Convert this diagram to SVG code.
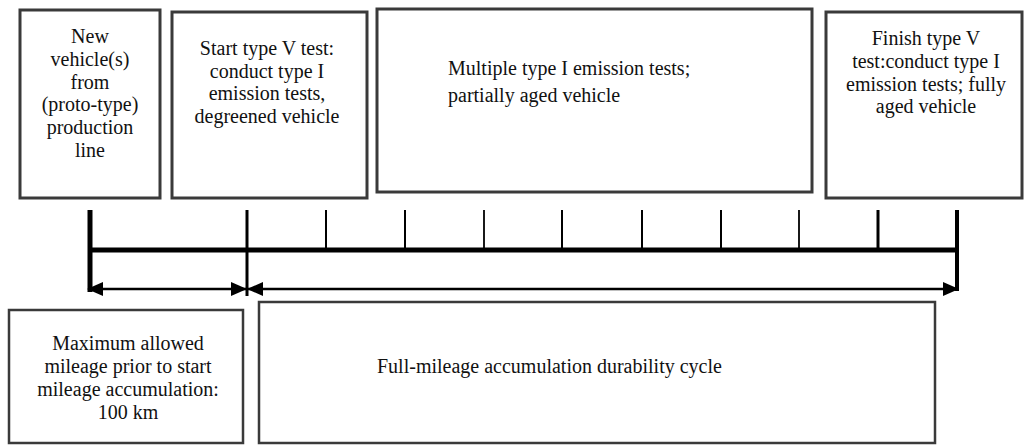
<svg xmlns="http://www.w3.org/2000/svg" width="1026" height="446" viewBox="0 0 1026 446">
  <style>
    .box { fill: #ffffff; stroke: #3a3a3a; stroke-width: 3; }
    .box2 { fill: #ffffff; stroke: #3a3a3a; stroke-width: 2.5; }
    .t { font-family: "Liberation Serif", "Times New Roman", serif; font-size: 20px; fill: #111; }
    .c { text-anchor: middle; }
    .ln { stroke: #000; fill: none; }
  </style>
  <defs>
    <marker id="ah" viewBox="0 0 16 14" refX="15" refY="7" markerWidth="16" markerHeight="14" markerUnits="userSpaceOnUse" orient="auto-start-reverse">
      <path d="M0,0 L16,7 L0,14 Z" fill="#000"/>
    </marker>
  </defs>
  <rect width="1026" height="446" fill="#ffffff"/>

  <g id="node-new-vehicle">
    <rect class="box" x="20" y="10" width="140" height="188"/>
    <text class="t c" x="90" y="43">New</text>
    <text class="t c" x="90" y="66">vehicle(s)</text>
    <text class="t c" x="90" y="89">from</text>
    <text class="t c" x="90" y="111">(proto-type)</text>
    <text class="t c" x="90" y="134">production</text>
    <text class="t c" x="90" y="157">line</text>
  </g>

  <g id="node-start-test">
    <rect class="box" x="172" y="12" width="195" height="186"/>
    <text class="t c" x="267" y="55">Start type V test:</text>
    <text class="t c" x="267" y="78">conduct type I</text>
    <text class="t c" x="267" y="100">emission tests,</text>
    <text class="t c" x="267" y="123">degreened vehicle</text>
  </g>

  <g id="node-multiple-tests">
    <rect class="box" x="377" y="9" width="435" height="183"/>
    <text class="t" x="448" y="75">Multiple type I emission tests;</text>
    <text class="t" x="448" y="102">partially aged vehicle</text>
  </g>

  <g id="node-finish-test">
    <rect class="box" x="826" y="12" width="196" height="186"/>
    <text class="t c" x="926" y="45">Finish type V</text>
    <text class="t c" x="926" y="68">test:conduct type I</text>
    <text class="t c" x="926" y="91">emission tests; fully</text>
    <text class="t c" x="926" y="113">aged vehicle</text>
  </g>

  <g id="node-max-mileage">
    <rect class="box2" x="9" y="310" width="234" height="133"/>
    <text class="t c" x="128" y="350">Maximum allowed</text>
    <text class="t c" x="128" y="373">mileage prior to start</text>
    <text class="t c" x="128" y="396">mileage accumulation:</text>
    <text class="t c" x="128" y="419">100 km</text>
  </g>

  <g id="node-full-mileage">
    <rect class="box2" x="259" y="302" width="676" height="141"/>
    <text class="t" x="377" y="373">Full-mileage accumulation durability cycle</text>
  </g>

  <g id="connectors">
    <!-- main timeline -->
    <line class="ln" x1="88" y1="250" x2="959" y2="250" stroke-width="5"/>
    <!-- ticks -->
    <line class="ln" x1="90" y1="210" x2="90" y2="292" stroke-width="5"/>
    <line class="ln" x1="247" y1="210" x2="247" y2="296" stroke-width="3"/>
    <line class="ln" x1="326" y1="210" x2="326" y2="250" stroke-width="2"/>
    <line class="ln" x1="405" y1="210" x2="405" y2="250" stroke-width="2"/>
    <line class="ln" x1="484" y1="210" x2="484" y2="250" stroke-width="1.8"/>
    <line class="ln" x1="562" y1="210" x2="562" y2="250" stroke-width="2"/>
    <line class="ln" x1="642" y1="210" x2="642" y2="250" stroke-width="2"/>
    <line class="ln" x1="721" y1="210" x2="721" y2="250" stroke-width="2"/>
    <line class="ln" x1="799" y1="210" x2="799" y2="250" stroke-width="1.8"/>
    <line class="ln" x1="878" y1="210" x2="878" y2="250" stroke-width="3"/>
    <line class="ln" x1="957" y1="210" x2="957" y2="291" stroke-width="4"/>
    <!-- span arrows -->
    <line class="ln" x1="88" y1="289" x2="246" y2="289" stroke-width="2.5" marker-start="url(#ah)" marker-end="url(#ah)"/>
    <line class="ln" x1="248" y1="289" x2="958" y2="289" stroke-width="2.5" marker-start="url(#ah)" marker-end="url(#ah)"/>
  </g>
</svg>
